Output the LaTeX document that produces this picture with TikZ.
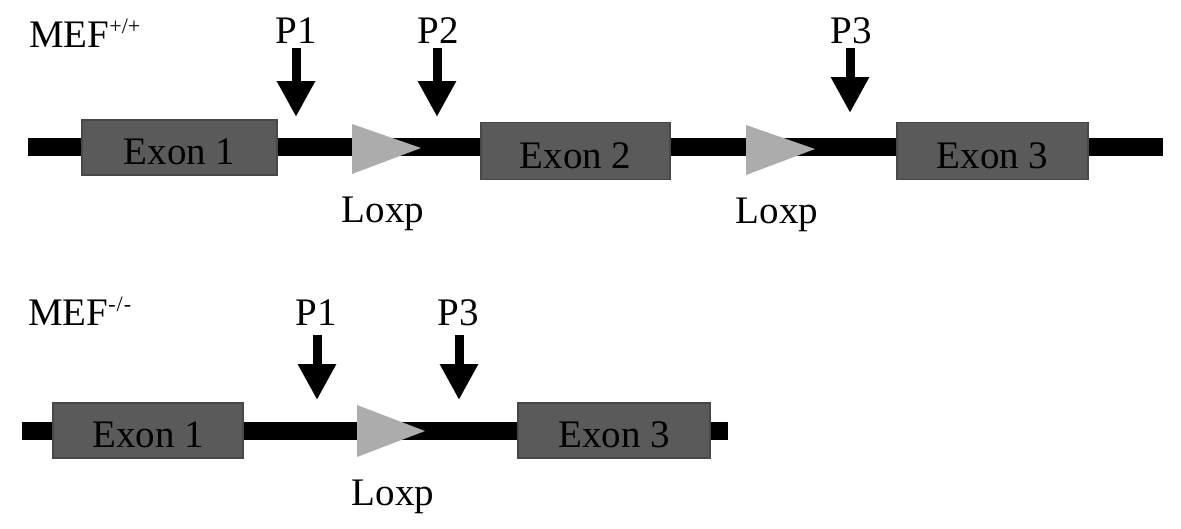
\documentclass[tikz,border=0pt]{standalone}
\usepackage{fontspec}
\setmainfont{Liberation Serif}
\usetikzlibrary{arrows.meta}
\definecolor{exongray}{RGB}{90,90,90}
\definecolor{exonedge}{RGB}{72,72,72}
\definecolor{loxpgray}{RGB}{172,172,172}
\tikzset{
  lbl/.style={font=\fontsize{39}{44}\selectfont, inner sep=0pt, anchor=base},
  exon/.style={draw=exonedge, line width=1.2pt, fill=exongray, rectangle, inner sep=0pt,
    font=\fontsize{39}{44}\selectfont, text height=34pt, text depth=0pt},
  dna/.style={line width=18pt},
  loxp/.style={fill=loxpgray},
  probe/.style={line width=9pt, -{Triangle[width=36pt,length=36pt]}},
}
\newcommand{\supsc}[1]{\raisebox{14pt}{\fontsize{22}{22}\selectfont #1}}
\begin{document}
\begin{tikzpicture}[x=1pt,y=-1pt]
\useasboundingbox (0,0) rectangle (1181,528);

% ---------- top row (MEF+/+) ----------
\coordinate (tL) at (28,146.5);
\coordinate (tR) at (1163,146.5);
\draw[dna] (tL) -- (tR);

\node[exon, minimum width=195pt, minimum height=55pt] (te1) at (179.5,147.5) {Exon 1};
\node[exon, minimum width=189pt, minimum height=57pt] (te2) at (575.5,151) {Exon 2};
\node[exon, minimum width=191pt, minimum height=57pt] (te3) at (992.5,151) {Exon 3};

\fill[loxp] (352,124) -- (352,174) -- (421,148) -- cycle;
\fill[loxp] (746,125) -- (746,175) -- (815,149) -- cycle;

\node[lbl] (tlx1) at (383,222) {Loxp};
\node[lbl] (tlx2) at (777,223) {Loxp};

\node[lbl, anchor=base west] (mefwt) at (29,47) {MEF\supsc{+/+}};

\node[lbl] (tp1) at (296,43) {P1};
\node[lbl] (tp2) at (438,43) {P2};
\node[lbl] (tp3) at (851,43) {P3};

\coordinate (ta1s) at (296,48);  \coordinate (ta1e) at (296,117);
\coordinate (ta2s) at (437,48);  \coordinate (ta2e) at (437,117);
\coordinate (ta3s) at (850,48);  \coordinate (ta3e) at (850,113);
\draw[probe] (ta1s) -- (ta1e);
\draw[probe] (ta2s) -- (ta2e);
\draw[probe] (ta3s) -- (ta3e);

% ---------- bottom row (MEF-/-) ----------
\coordinate (bL) at (22,431);
\coordinate (bR) at (728,431);
\draw[dna] (bL) -- (bR);

\node[exon, minimum width=190pt, minimum height=55pt] (be1) at (148,430.5) {Exon 1};
\node[exon, minimum width=192pt, minimum height=55pt] (be3) at (614,430.5) {Exon 3};

\fill[loxp] (357,405) -- (357,457) -- (425,431) -- cycle;

\node[lbl] (blx) at (393,505) {Loxp};

\node[lbl, anchor=base west] (mefko) at (28,325) {MEF\supsc{-\kern1pt/\kern1pt-}};

\node[lbl] (bp1) at (316,325) {P1};
\node[lbl] (bp3) at (458,325) {P3};

\coordinate (ba1s) at (317,335);  \coordinate (ba1e) at (317,400);
\coordinate (ba3s) at (459,335);  \coordinate (ba3e) at (459,400);
\draw[probe] (ba1s) -- (ba1e);
\draw[probe] (ba3s) -- (ba3e);
\end{tikzpicture}
\end{document}
